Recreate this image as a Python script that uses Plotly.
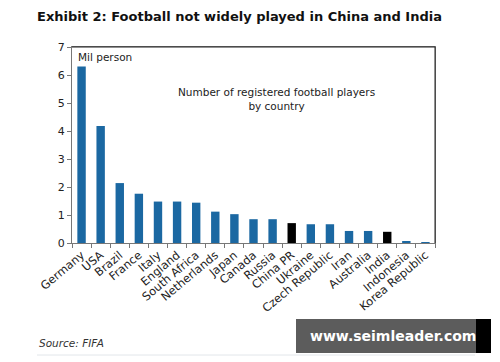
import plotly.graph_objects as go

countries = ["Germany", "USA", "Brazil", "France", "Italy", "England", "South Africa",
             "Netherlands", "Japan", "Canada", "Russia", "China PR", "Ukraine",
             "Czech Republic", "Iran", "Australia", "India", "Indonesia", "Korea Republic"]
players_mil = [6.3, 4.18, 2.14, 1.76, 1.48, 1.48, 1.44, 1.12, 1.03, 0.85, 0.85, 0.71,
               0.67, 0.67, 0.43, 0.43, 0.40, 0.06, 0.01]
highlight = ["China PR", "India"]

colors = ["#000000" if c in highlight else "#1b68a2" for c in countries]

OFF = 8  # page body margin
# plot area in window pixels
L, R, T, B = 72, 435, 47, 243
W, H = 500, 362
def px(x):
    return (x - L) / (R - L)
def py(y):
    return (B - y) / (B - T)

fig = go.Figure(go.Bar(x=countries, y=players_mil, marker_color=colors,
                       marker_line_width=0))

font = "DejaVu Sans, Verdana, sans-serif"
fig.update_layout(
    width=W - OFF, height=H - OFF,
    margin=dict(l=L - OFF, r=W - R, t=T - OFF, b=H - B),
    paper_bgcolor="white", plot_bgcolor="white",
    bargap=0.56,
    showlegend=False,
    font=dict(family=font, size=10, color="#222"),
    title=dict(text="<b>Exhibit 2: Football not widely played in China and India</b>",
               x=(37 - OFF) / (W - OFF), y=1 - (16 - OFF) / (H - OFF),
               xanchor="left", yanchor="middle",
               font=dict(family=font, size=13, color="#111")),
)
fig.update_xaxes(tickangle=-40, showline=True, linecolor="#777", linewidth=1,
                 mirror=True, ticks="outside", tickson="boundaries", ticklen=4,
                 tickcolor="#777", showgrid=False, tickfont=dict(size=11.5, color="#222"))
fig.update_yaxes(range=[0, 7], dtick=1, showline=True, linecolor="#777", linewidth=1,
                 mirror=True, ticks="outside", ticklen=4, tickcolor="#777",
                 showgrid=False, zeroline=False, tickfont=dict(size=11, color="#222"))
fig.add_shape(type="line", xref="paper", yref="paper", x0=0, x1=1, y0=1, y1=1,
              line=dict(color="#222", width=1))
fig.add_shape(type="line", xref="paper", yref="paper", x0=1, x1=1, y0=0, y1=1,
              line=dict(color="#222", width=1))

fig.add_annotation(text="Mil person", xref="paper", yref="paper", x=px(76), y=py(49),
                   xanchor="left", yanchor="top", showarrow=False,
                   font=dict(size=10.5, color="#222"))
fig.add_annotation(text="Number of registered football players<br>by country",
                   xref="paper", yref="paper", x=px(276), y=py(99),
                   xanchor="center", yanchor="middle", showarrow=False,
                   font=dict(size=10.5, color="#222"))
fig.add_annotation(text="<i>Source: FIFA</i>", xref="paper", yref="paper",
                   x=px(37), y=py(343), xanchor="left", yanchor="middle",
                   showarrow=False, font=dict(size=10.5, color="#333"))
fig.add_shape(type="line", xref="paper", yref="paper", x0=px(37), x1=px(475),
              y0=py(355), y1=py(355), line=dict(color="#e2e6ea", width=1))
# watermark
fig.add_shape(type="rect", xref="paper", yref="paper", x0=px(296), x1=px(476),
              y0=py(353), y1=py(319), fillcolor="#5c5c5c", line_width=0)
fig.add_shape(type="rect", xref="paper", yref="paper", x0=px(476), x1=px(491),
              y0=py(353), y1=py(319), fillcolor="#000000", line_width=0)
fig.add_annotation(text="<b>www.seimleader.com</b>", xref="paper", yref="paper",
                   x=px(393), y=py(336), xanchor="center", yanchor="middle",
                   showarrow=False, font=dict(size=14, color="white", family=font))

fig.write_html("out.html")
